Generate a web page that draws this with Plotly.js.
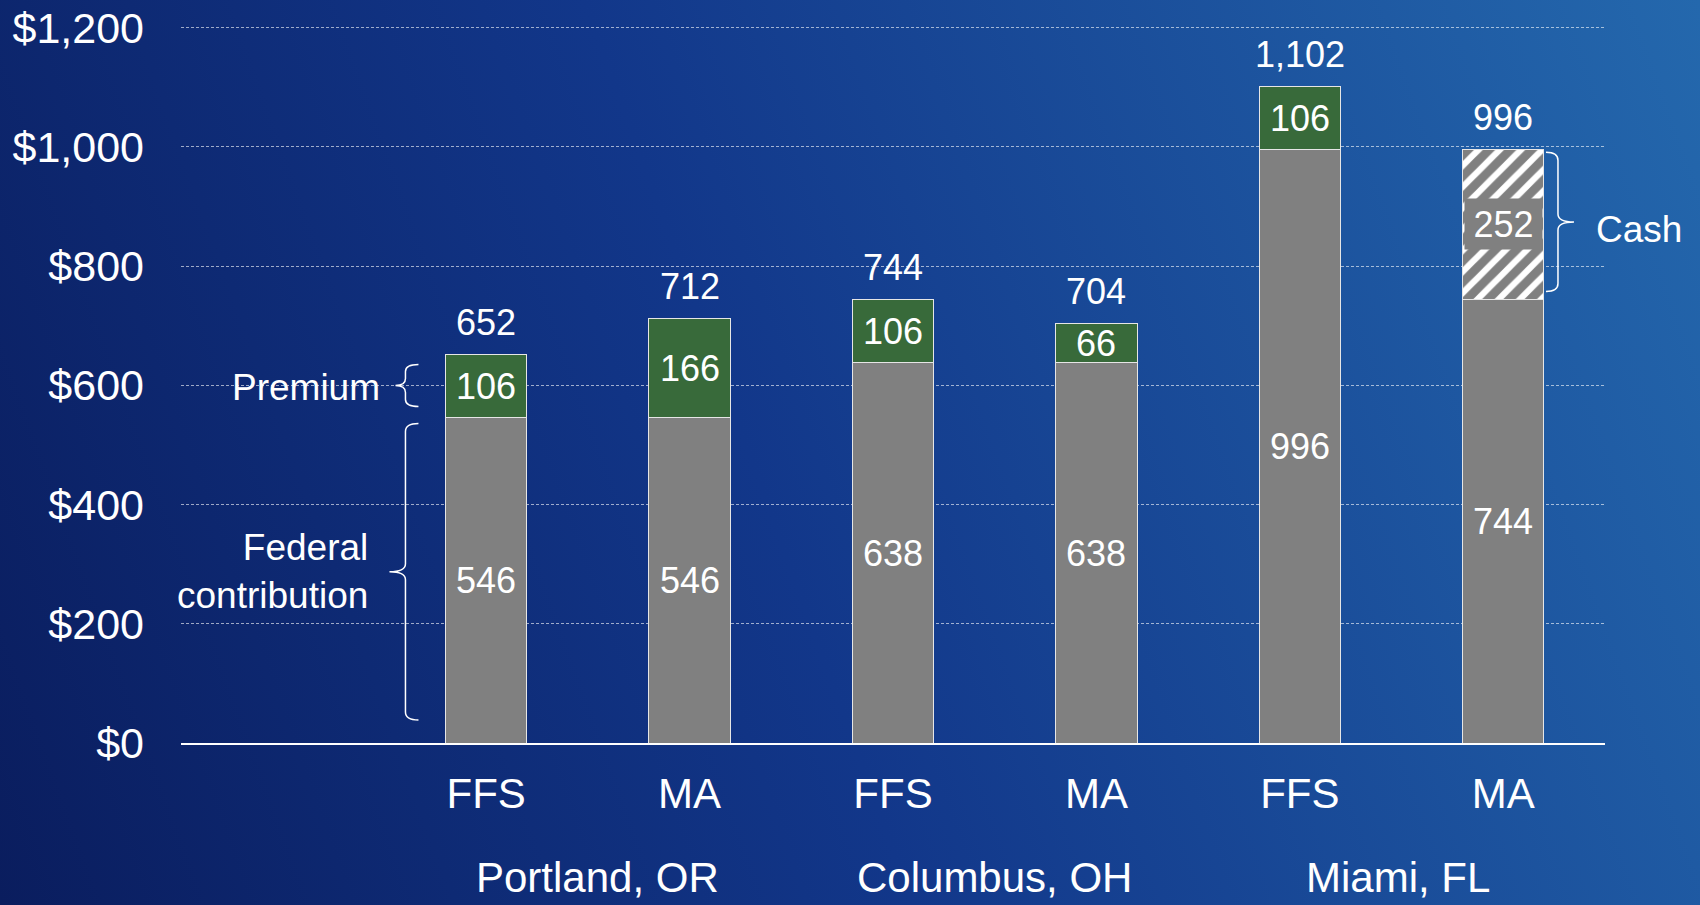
<!DOCTYPE html>
<html><head><meta charset="utf-8">
<script src="https://cdn.plot.ly/plotly-3.0.1.min.js"></script>
<style>
html,body{margin:0;padding:0;overflow:hidden;}
#chart{width:1700px;height:905px;background:linear-gradient(70deg,#0a1d5e 0%,#12378a 45%,#2468ad 100%);}
</style></head><body><div id="chart"></div>
<script>
// ---- data ----
const cities = ['Portland, OR', 'Columbus, OH', 'Miami, FL'];
const planTypes = ['FFS', 'MA', 'FFS', 'MA', 'FFS', 'MA'];
const federal = [546, 546, 638, 638, 996, 744];
const premium = [106, 166, 106, 66, 106, null];
const cash = [null, null, null, null, null, 252];
const yTicks = [0, 200, 400, 600, 800, 1000, 1200];
const yTickText = yTicks.map(v => '$' + v.toLocaleString('en-US'));

// ---- layout geometry ----
const W = 1700, H = 905, mL = 181, mR = 95, mB = 162;
const yRange = [0, 1203];
const plotH = 715 * yRange[1] / 1200;
const mT = H - mB - plotH;
const xRange = [-1.5, planTypes.length - 0.5];
const pxX = (xRange[1] - xRange[0]) / (W - mL - mR);
const pxY = (yRange[1] - yRange[0]) / plotH;
const barW = 0.4;
const idx = planTypes.map((_, i) => i);
const FONT = 'Liberation Sans, Arial, sans-serif';
const GRAY = '#808080', GREEN = '#386a3a', EDGE = '#e6e6e6';
const cityShift = [10, 0, -4];

const totals = idx.map(i => (federal[i] || 0) + (premium[i] || 0) + (cash[i] || 0));

const traces = [
  {type: 'bar', x: idx, y: federal, width: barW, marker: {color: GRAY, line: {color: EDGE, width: 1}}, hoverinfo: 'skip'},
  {type: 'bar', x: idx, y: premium, width: barW, marker: {color: GREEN, line: {color: EDGE, width: 1}}, hoverinfo: 'skip'},
  {type: 'bar', x: idx, y: cash, width: barW, hoverinfo: 'skip',
   marker: {color: GRAY, line: {color: EDGE, width: 1},
            pattern: {shape: '/', fgcolor: '#ffffff', bgcolor: GRAY, size: 15, solidity: 0.42, fillmode: 'replace'}}}
];

// curly brace path in data units; side=-1 tip points left, +1 tip points right
function brace(xLine, yBot, yTop, side, curlPx, tipPx, rPx) {
  const xc = xLine - side * curlPx * pxX, xt = xLine + side * tipPx * pxX;
  const ry = rPx * pxY, ym = (yBot + yTop) / 2;
  return {
    type: 'path', xref: 'x', yref: 'y', layer: 'above',
    line: {color: '#ffffff', width: 1.5},
    path: `M ${xc},${yTop} Q ${xLine},${yTop} ${xLine},${yTop - ry} L ${xLine},${ym + ry} ` +
          `Q ${xLine},${ym} ${xt},${ym} Q ${xLine},${ym} ${xLine},${ym - ry} ` +
          `L ${xLine},${yBot + ry} Q ${xLine},${yBot} ${xc},${yBot}`
  };
}

const left0 = 0 - barW / 2;
const lastI = planTypes.length - 1;
const right5 = lastI + barW / 2;
const premBot = federal[0] + 11 * pxY, premTop = federal[0] + premium[0] - 10 * pxY;
const fedBot = 0 + 23 * pxY, fedTop = federal[0] - 6 * pxY;
const cashBot = federal[lastI] + 8 * pxY, cashTop = totals[lastI] - 3 * pxY;

const shapes = [
  brace(left0 - 40 * pxX, premBot, premTop, -1, 13, 10, 7),
  brace(left0 - 40 * pxX, fedBot, fedTop, -1, 13, 16, 8),
  brace(right5 + 14 * pxX, cashBot, cashTop, 1, 12, 16, 8)
];

const valFont = {family: FONT, size: 36, color: '#ffffff'};
const annFont = {family: FONT, size: 37, color: '#ffffff'};
const annotations = [];
// values inside bars
idx.forEach(i => {
  annotations.push({x: i, y: federal[i] / 2, xref: 'x', yref: 'y', text: String(federal[i]),
    showarrow: false, yanchor: 'middle', yshift: -0.5, font: valFont});
  if (premium[i] != null) annotations.push({x: i, y: federal[i] + premium[i] / 2, xref: 'x', yref: 'y',
    text: String(premium[i]), showarrow: false, yanchor: 'middle', yshift: -0.5, font: valFont});
});
// totals above bars
idx.forEach(i => annotations.push({
  x: i, y: totals[i], xref: 'x', yref: 'y', text: totals[i].toLocaleString('en-US'),
  showarrow: false, yanchor: 'middle', yshift: 32, font: valFont
}));
// cash middle label
annotations.push({
  x: lastI, y: federal[lastI] + cash[lastI] / 2, xref: 'x', yref: 'y', text: String(cash[lastI]),
  showarrow: false, bgcolor: GRAY, width: 77, height: 50, borderpad: 0,
  font: valFont
});
// side labels
annotations.push({x: left0 - 63 * pxX, y: (premBot + premTop) / 2, xref: 'x', yref: 'y', text: 'Premium',
  showarrow: false, xanchor: 'right', yanchor: 'middle', yshift: -2, font: annFont});
annotations.push({x: left0 - 75 * pxX, y: (fedBot + fedTop) / 2, xref: 'x', yref: 'y', text: 'Federal<br>contribution',
  showarrow: false, xanchor: 'right', yanchor: 'middle', align: 'right', font: annFont});
annotations.push({x: right5 + 50 * pxX, y: (cashBot + cashTop) / 2, xref: 'x', yref: 'y', text: 'Cash',
  showarrow: false, xanchor: 'left', yanchor: 'middle', yshift: -8, font: annFont});
// city labels
cities.forEach((c, k) => annotations.push({
  x: 2 * k + 0.5, y: -134 / plotH, xref: 'x', yref: 'paper', text: c, xshift: cityShift[k],
  showarrow: false, yanchor: 'middle', font: {family: FONT, size: 42, color: '#ffffff'}
}));

const layout = {
  width: W, height: H,
  margin: {l: mL, r: mR, t: mT, b: mB, pad: 0},
  paper_bgcolor: 'rgba(0,0,0,0)', plot_bgcolor: 'rgba(0,0,0,0)',
  barmode: 'stack', showlegend: false,
  font: {family: FONT, color: '#ffffff'},
  xaxis: {
    range: xRange, tickvals: idx, ticktext: planTypes, showgrid: false, zeroline: false,
    showline: true, linecolor: '#ffffff', linewidth: 1.5,
    ticks: '', ticklabelstandoff: 13, tickfont: {family: FONT, size: 42, color: '#ffffff'}, fixedrange: true
  },
  yaxis: {
    range: yRange, tickmode: 'array', tickvals: yTicks, ticktext: yTickText,
    showgrid: true, gridcolor: 'rgba(255,255,255,0.6)', gridwidth: 1, griddash: '3px,2px',
    zeroline: false, showline: false, ticks: '', ticklabelstandoff: 36,
    tickfont: {family: FONT, size: 43, color: '#ffffff'}, fixedrange: true
  },
  shapes: shapes,
  annotations: annotations
};

Plotly.newPlot('chart', traces, layout, {displayModeBar: false, staticPlot: true});
</script>
</body></html>
